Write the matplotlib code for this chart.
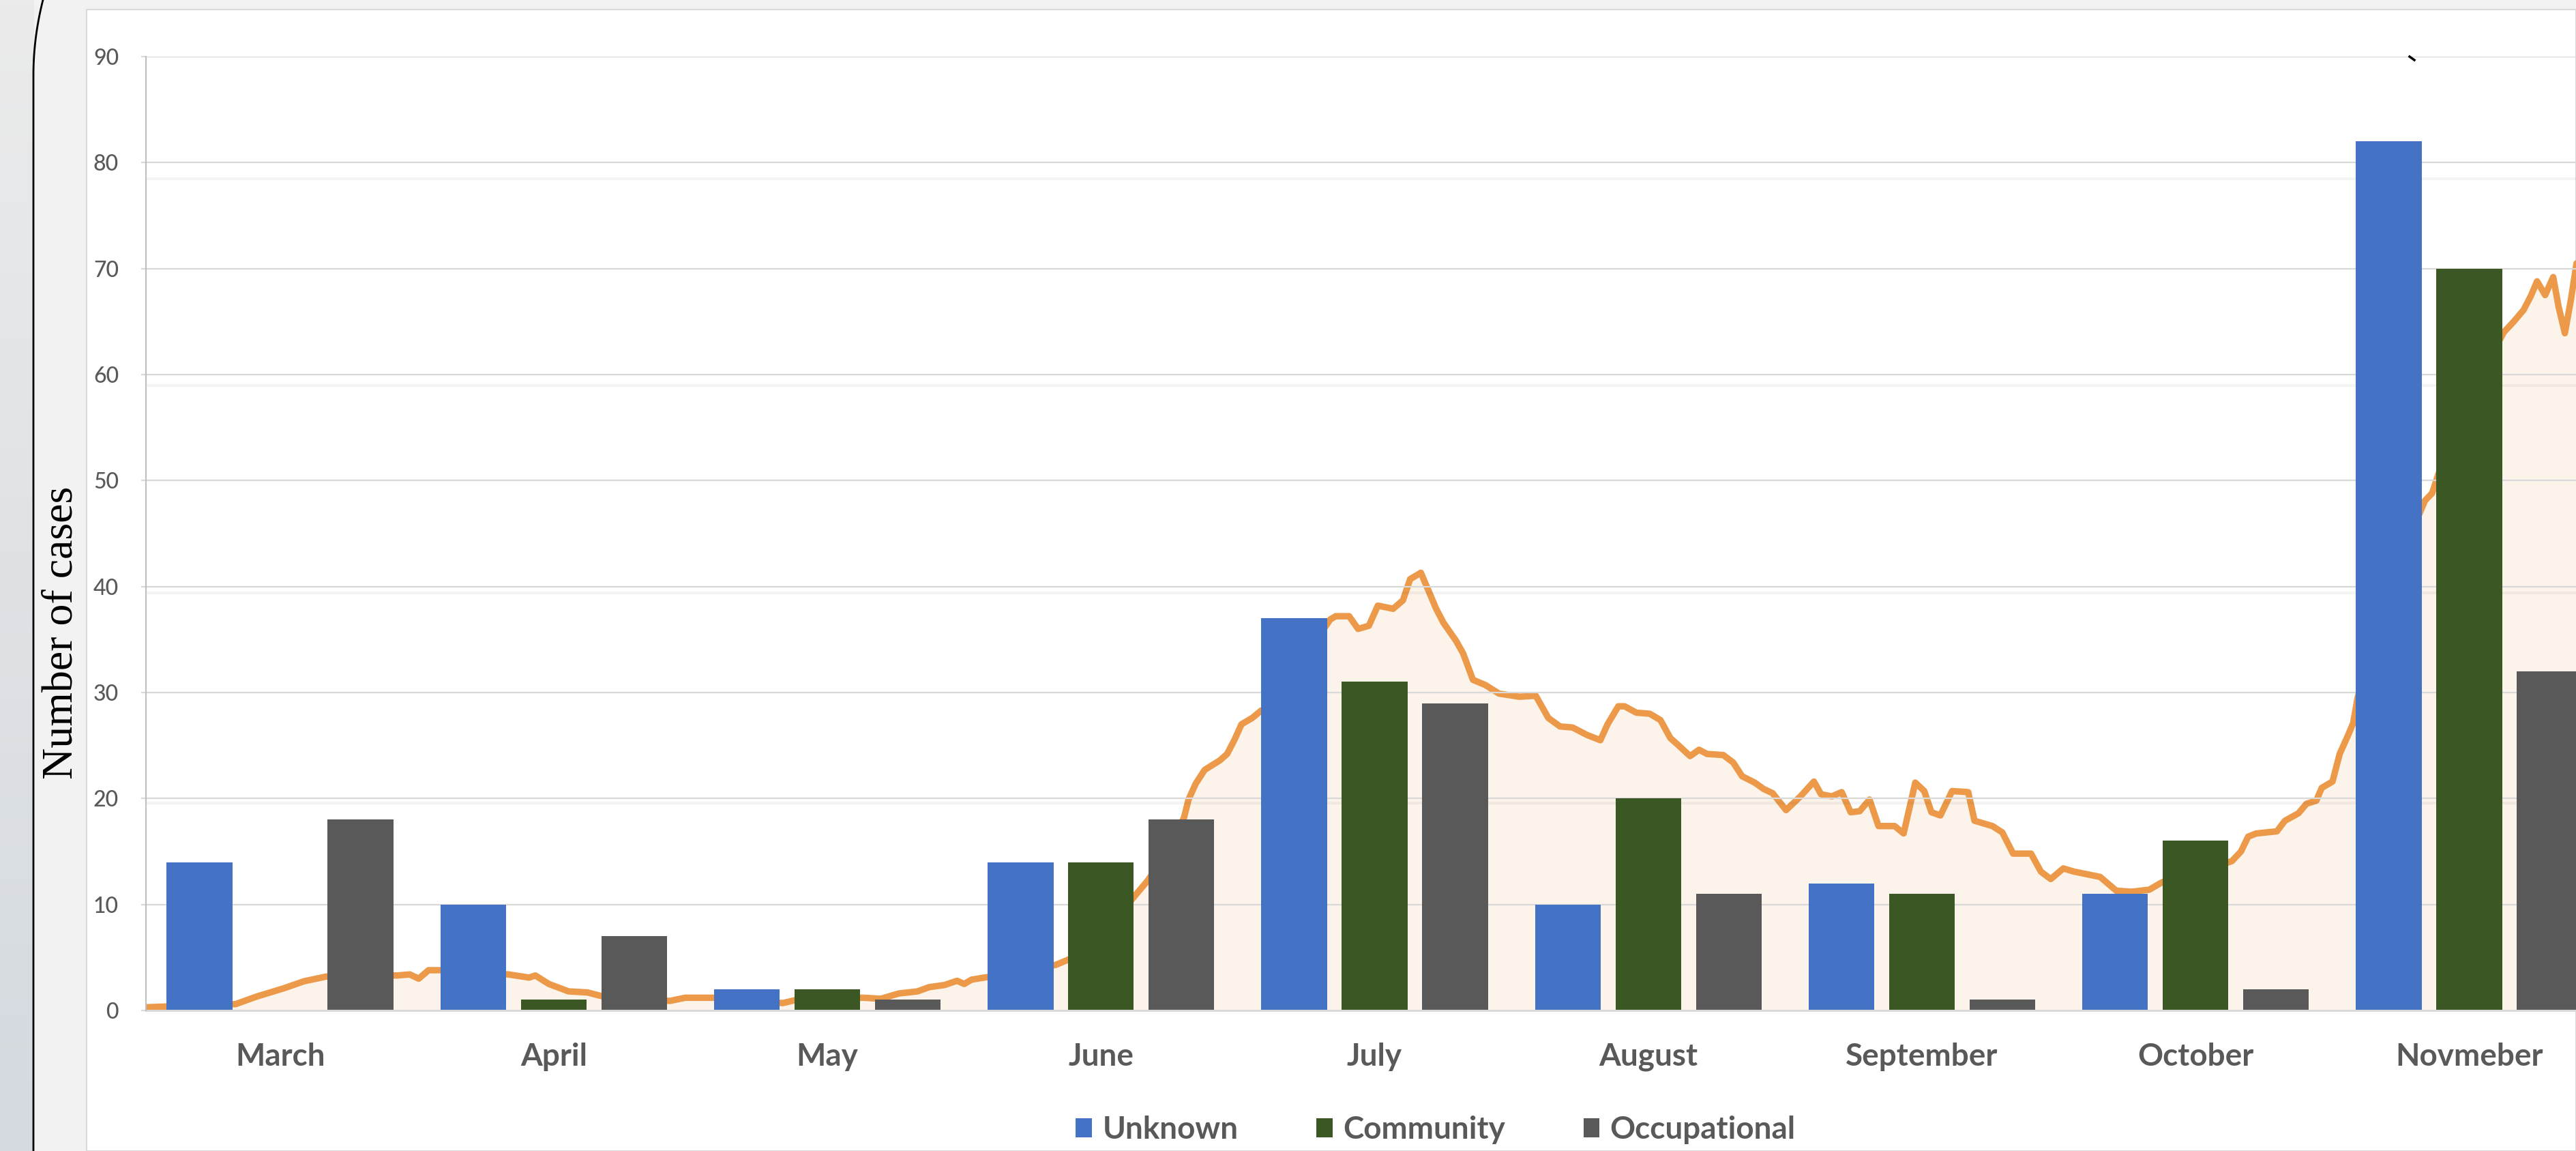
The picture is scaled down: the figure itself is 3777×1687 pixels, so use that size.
import numpy as np
import matplotlib
matplotlib.use("Agg")
import matplotlib.pyplot as plt
from matplotlib.patches import Rectangle, Patch
from matplotlib.lines import Line2D

# ---- data -------------------------------------------------------------
months = ["March", "April", "May", "June", "July", "August",
          "September", "October", "Novmeber"]
unknown = [14, 10, 2, 14, 37, 10, 12, 11, 82]
community = [0, 1, 2, 14, 31, 20, 11, 16, 70]
occupational = [18, 7, 1, 18, 29, 11, 1, 2, 32]
series_names = ["Unknown", "Community", "Occupational"]
y_ticks = list(range(0, 100, 10))

# daily trend curve: days since 1 March and its value
trend_day = [
    0, 6.3, 10.0, 12.3, 15.4, 17.6, 20.1, 24.0, 28.0, 29.4, 30.4, 31.5, 32.8,
    36.5, 40.4, 42.7, 43.4, 44.9, 47.1, 49.2, 50.8, 54.5, 58.4, 60.1, 63.2,
    67.0, 71.0, 72.5, 76.0, 80.0, 81.9, 83.9, 86.0, 87.3, 89.0, 90.4, 91.2,
    92.0, 93.4, 94.2, 98.0, 101.4, 103.1, 107.0, 110.4, 111.6, 113.5, 115.7,
    116.2, 117.0, 118.0, 119.7, 120.5, 121.3, 122.1, 123.3, 124.3, 124.7,
    128.5, 132.0, 132.6, 134.1, 135.1, 136.3, 137.3, 139.0, 140.1, 140.9,
    142.1, 142.7, 143.8, 144.6, 146.0, 146.8, 147.9, 149.3, 150.8, 153.1,
    154.9, 155.7, 156.3, 157.6, 159.0, 160.6, 162.1, 162.9, 164.1, 164.8,
    166.1, 167.6, 168.8, 169.9, 170.7, 172.1, 173.1, 174.0, 175.8, 176.9,
    177.9, 179.3, 180.3, 181.3, 182.8, 184.4, 185.9, 186.7, 187.9, 189.0,
    190.0, 191.0, 192.1, 193.1, 194.9, 195.9, 197.2, 198.2, 199.0, 200.0,
    201.3, 203.1, 203.8, 205.8, 206.9, 208.1, 210.1, 211.2, 212.3, 213.7,
    214.9, 217.8, 219.6, 221.3, 223.3, 224.5, 225.0, 229.0, 232.5, 233.5,
    234.3, 235.2, 237.5, 238.4, 239.9, 240.8, 241.9, 242.5, 243.7, 244.5,
    245.4, 246.0, 246.5, 250.0, 254.0, 254.8, 255.5, 259.0, 262.8, 263.9,
    265.0, 265.8, 266.5, 267.4, 268.3, 268.9, 269.6, 270.3, 270.9,
]
trend_value = [
    0.3, 0.5, 0.6, 1.3, 2.1, 2.75, 3.2, 3.3, 3.3, 3.4, 3.0, 3.8, 3.8,
    3.6, 3.4, 3.1, 3.3, 2.5, 1.8, 1.7, 1.35, 1.1, 0.9, 1.2, 1.2,
    0.9, 0.7, 1.0, 1.1, 1.2, 1.1, 1.6, 1.8, 2.2, 2.4, 2.8, 2.5,
    2.9, 3.1, 3.2, 3.8, 4.3, 4.9, 7.5, 11.0, 12.2, 14.5, 18.2,
    19.9, 21.4, 22.7, 23.6, 24.2, 25.5, 27.0, 27.6, 28.3, 28.0,
    32.5, 36.9, 37.2, 37.2, 36.0, 36.3, 38.2, 37.9, 38.7, 40.7,
    41.3, 40.1, 37.9, 36.6, 34.9, 33.7, 31.2, 30.7, 29.9, 29.6,
    29.7, 28.5, 27.6, 26.8, 26.7, 26.0, 25.5, 27.0, 28.7, 28.7,
    28.1, 28.0, 27.4, 25.7, 25.1, 24.0, 24.6, 24.2, 24.1, 23.4,
    22.1, 21.5, 20.9, 20.5, 18.9, 20.2, 21.6, 20.4, 20.2, 20.6,
    18.7, 18.8, 19.9, 17.4, 17.4, 16.7, 21.5, 20.7, 18.7, 18.4,
    20.7, 20.6, 17.9, 17.4, 16.8, 14.8, 14.8, 13.1, 12.4, 13.4,
    13.1, 12.6, 11.3, 11.2, 11.4, 12.0, 12.2, 13.0, 14.1, 15.0,
    16.4, 16.7, 16.9, 17.9, 18.6, 19.5, 19.8, 21.0, 21.6, 24.2,
    25.9, 27.1, 29.5, 40.0, 48.1, 48.8, 50.6, 58.0, 64.0, 65.0,
    66.1, 67.4, 68.8, 67.5, 69.2, 66.4, 63.9, 67.2, 70.5,
]

# ---- styling ----------------------------------------------------------
W, H = 3777, 1687
DPI = 100
BAR_COLORS = ["#4472C4", "#3B5724", "#595959"]
TEXT_GREY = "#595959"
GRID_GREY = "#D9D9D9"
LINE_ORANGE = "#EC9A4A"
FILL_PEACH = "#FCF3EA"
DAYS_PER_CATEGORY = 30.5
X_LEFT = -0.49

plt.rcParams["font.family"] = ["Lato", "DejaVu Sans"]

fig = plt.figure(figsize=(W / DPI, H / DPI), dpi=DPI)
fig.patch.set_facecolor("#F2F2F2")

# left slide margin with a soft vertical gradient
ax_side = fig.add_axes([0, 0, 49 / W, 1])
top_c = np.array([235, 235, 235]) / 255
bot_c = np.array([212, 218, 224]) / 255
grad = np.linspace(0, 1, 256)[:, None, None] * (bot_c - top_c) + top_c
ax_side.imshow(grad, aspect="auto", extent=[0, 1, 0, 1], origin="upper")
ax_side.set_axis_off()

# white chart panel
panel = Rectangle((127 / W, 0), 1 - 127 / W, (H - 14) / H,
                  transform=fig.transFigure, facecolor="white",
                  edgecolor=GRID_GREY, linewidth=1.5, zorder=-5)
fig.add_artist(panel)

# curved black border line of the slide
ys = np.linspace(0, 110, 40)
xs = 49 + 14 * (1 - ys / 110) ** 2
ys = np.concatenate([ys, [H]])
xs = np.concatenate([xs, [49]])
fig.add_artist(Line2D(xs / W, (H - ys) / H, transform=fig.transFigure,
                      color="black", linewidth=2.0, zorder=10))

# ---- main axes --------------------------------------------------------
ax = fig.add_axes([214 / W, (H - 1481) / H, (W - 214) / W, (1481 - 83) / H])
ax.patch.set_alpha(0)
ax.set_xlim(X_LEFT, 8.39)
ax.set_ylim(0, 90)

x = np.arange(len(months))
offset, width = 0.294, 0.24

# trend curve (behind the bars)
x_line = X_LEFT + np.array(trend_day) / DAYS_PER_CATEGORY
ax.fill_between(x_line, trend_value, 0, color=FILL_PEACH, linewidth=0, zorder=1)
ax.plot(x_line, trend_value, color=LINE_ORANGE, linewidth=6.8,
        solid_joinstyle="round", solid_capstyle="round", zorder=1.2)

# gridlines
for v in y_ticks[1:]:
    ax.axhline(v, color=GRID_GREY, linewidth=1.6, zorder=1.5)
for v in [19.6, 39.4, 59.0, 78.5]:
    ax.axhline(v, color="black", alpha=0.045, linewidth=3.0, zorder=1.4)

# grouped bars
for vals, dx, col in zip([unknown, community, occupational],
                         [-offset, 0, offset], BAR_COLORS):
    ax.bar(x + dx, vals, width, color=col, linewidth=0, zorder=3)

ax.axhline(0, color=GRID_GREY, linewidth=2.2, zorder=3.5, clip_on=False)

for side in ["top", "right", "bottom"]:
    ax.spines[side].set_visible(False)
ax.spines["left"].set_color("#BFBFBF")
ax.spines["left"].set_linewidth(1.5)
ax.spines["left"].set_zorder(4)

ax.set_yticks(y_ticks)
ax.tick_params(axis="y", length=5, width=1.6, color=GRID_GREY, direction="out",
               pad=23.8, labelsize=23, labelcolor=TEXT_GREY)
for lbl in ax.get_yticklabels():
    lbl.set_fontweight("medium")
ax.set_xticks(x)
ax.set_xticklabels(months, fontsize=33, fontweight="bold", color=TEXT_GREY)
ax.tick_params(axis="x", length=0, pad=58.3)
for lbl in ax.get_xticklabels():
    lbl.set_verticalalignment("baseline")

# y-axis title
fig.text(91 / W, (H - 927) / H, "Number of cases", rotation=90,
         ha="center", va="center", family=["Liberation Serif", "DejaVu Serif"],
         fontsize=46, color="black")

# legend
handles = [Patch(facecolor=c, edgecolor="none") for c in BAR_COLORS]
fig.legend(handles, series_names, loc="center",
           bbox_to_anchor=(2105 / W, (H - 1656) / H), ncol=3, frameon=False,
           prop={"family": "Lato", "weight": "bold", "size": 33},
           labelcolor=TEXT_GREY, handlelength=0.52, handleheight=0.55,
           handletextpad=0.33, columnspacing=2.5)

# small stray pen mark near the top gridline
fig.add_artist(Line2D([3533 / W, 3540 / W], [(H - 83) / H, (H - 88) / H],
                      transform=fig.transFigure, color="black", linewidth=2.5))

fig.savefig("out.png", dpi=DPI)
